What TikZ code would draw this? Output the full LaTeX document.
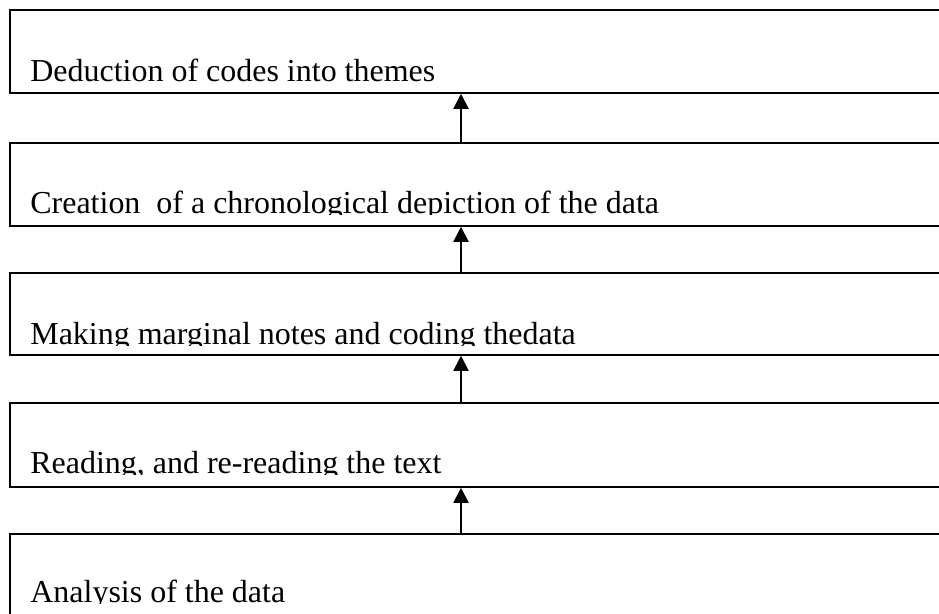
\documentclass[tikz,border=0pt]{standalone}
\usepackage{fontspec}
\setmainfont{Liberation Serif}
\usetikzlibrary{arrows.meta}

\begin{document}
\begin{tikzpicture}[x=0.02cm,y=-0.02cm]
                \tikzstyle{stage} = [rectangle, draw, line width=1pt, anchor=north west, minimum width=19.5cm, inner sep=0pt]
                \tikzstyle{caption} = [anchor=base west, inner sep=0pt, font=\fontsize{18.2}{21}\selectfont]
                \tikzstyle{arrow} = [line width=1.1pt, -{Triangle[length=0.3cm,width=0.3cm]}]

                \useasboundingbox (0,0) rectangle (939,613);
                \clip (0,0) rectangle (939,613);

                % stages, top to bottom: name / top / bottom / baseline / text
                \foreach \name/\top/\bot/\base/\txt in {
                    deduce/9/92/81/{Deduction of codes into themes},
                    create/142/225/213/{Creation~ of a chronological depiction of the data},
                    notes/272/354/344/{Making marginal notes and coding thedata},
                    reading/402/486/473/{Reading, and re-reading the text},
                    analysis/533/660/602/{Analysis of the data}}
                {
                    \node[stage, minimum height={(\bot-\top)*0.02cm}] (\name) at (9,\top) {};
                    \begin{scope}
                        \clip (0,\top) rectangle (939,\base+1.5);
                        \node[caption] (\name-text) at (30,\base) {\txt};
                    \end{scope}
                }

                \coordinate (axis) at (461,0);
                \draw [arrow] (create.north -| axis) -- (deduce.south -| axis);
                \draw [arrow] (notes.north -| axis) -- (create.south -| axis);
                \draw [arrow] (reading.north -| axis) -- (notes.south -| axis);
                \draw [arrow] (analysis.north -| axis) -- (reading.south -| axis);
            \end{tikzpicture}
\end{document}
